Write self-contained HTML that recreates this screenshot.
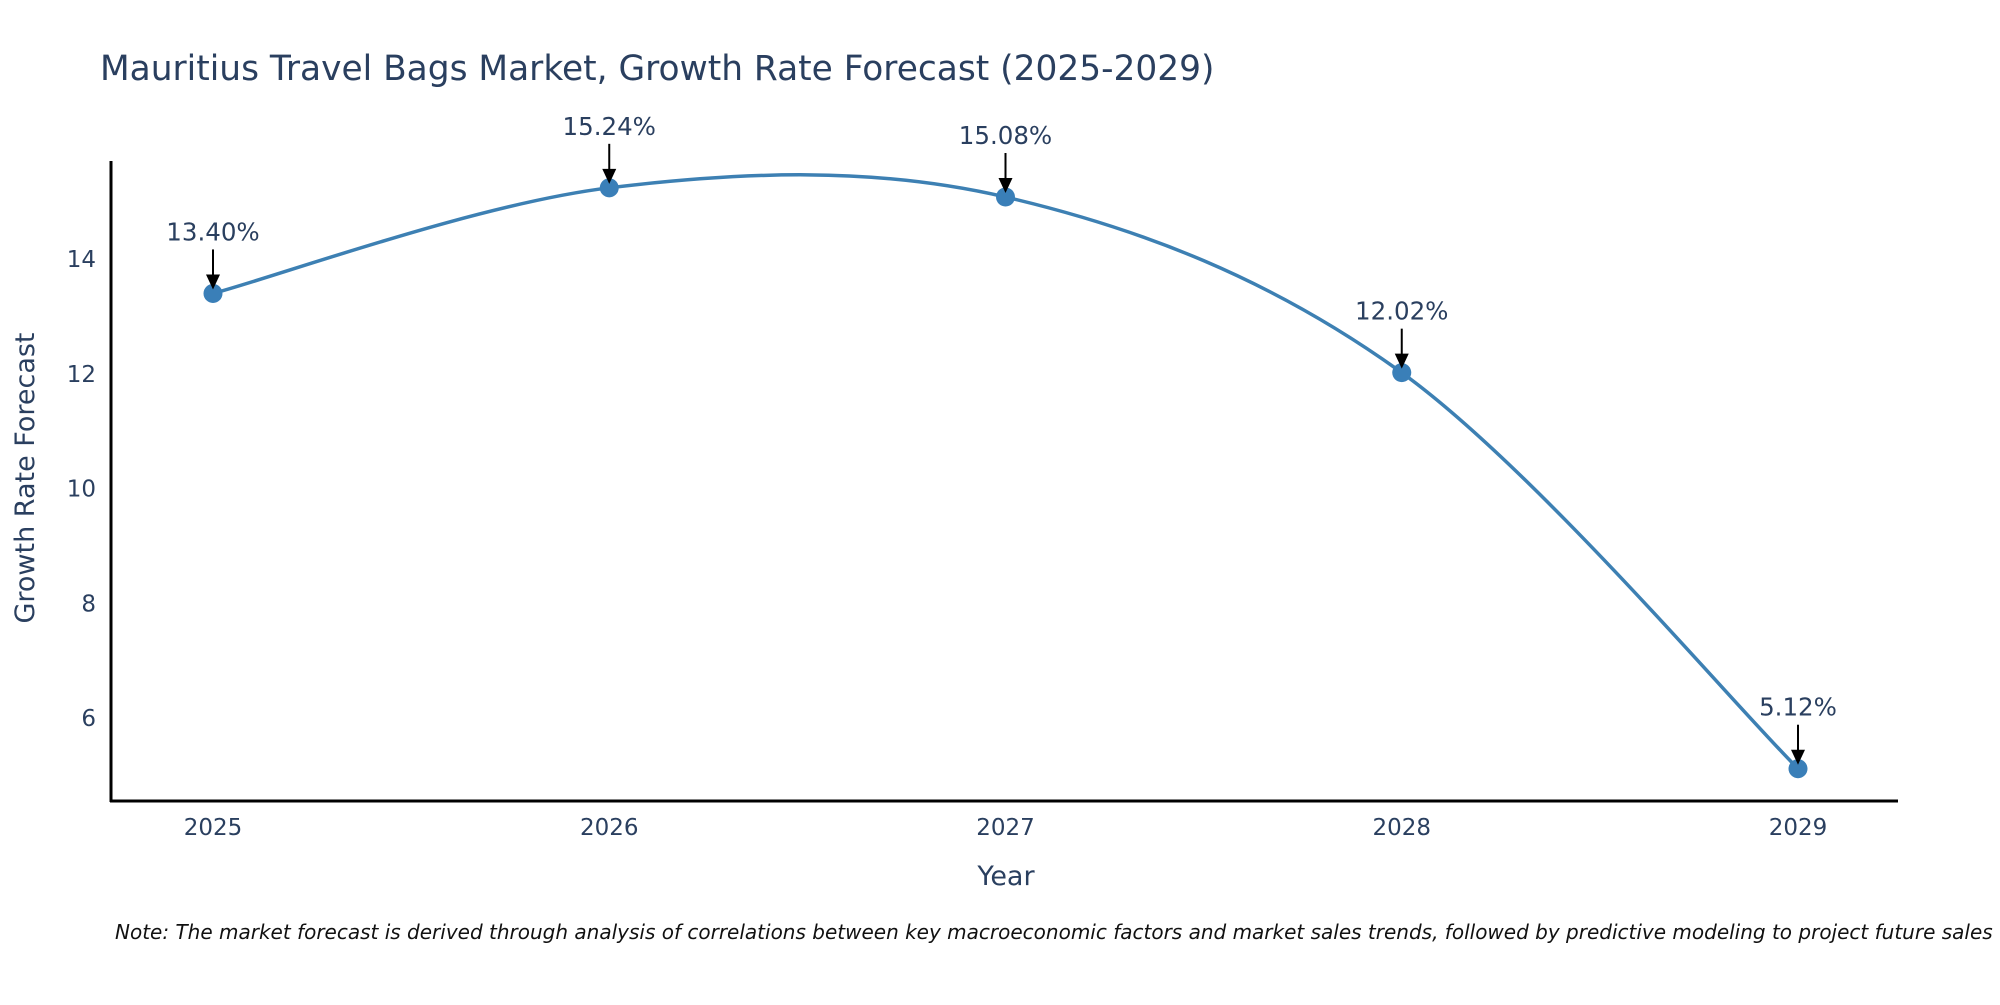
<!DOCTYPE html>
<html><head><meta charset="utf-8"><style>
body{margin:0;background:#fff;font-family:"Liberation Sans","DejaVu Sans",sans-serif;}
svg text{font-family:"DejaVu Sans","Liberation Sans",sans-serif;fill:#2a3f5f;}
</style></head><body>
<svg id="chart" width="2000" height="1000" viewBox="0 0 2000 1000" xmlns="http://www.w3.org/2000/svg">
<text x="100" y="80" font-size="34.4">Mauritius Travel Bags Market, Growth Rate Forecast (2025-2029)</text>
<g id="axes"></g>
<g id="series"></g>
<text x="1006" y="885" font-size="27" text-anchor="middle">Year</text>
<text transform="translate(34,478) rotate(-90)" font-size="27" text-anchor="middle">Growth Rate Forecast</text>
<text x="115" y="939" font-size="20" font-style="italic" style="fill:#111">Note: The market forecast is derived through analysis of correlations between key macroeconomic factors and market sales trends, followed by predictive modeling to project future sales</text>
</svg>
<script>
const years = ['2025','2026','2027','2028','2029'];
const growth = [13.40, 15.24, 15.08, 12.02, 5.12];
const labels = ['13.40%','15.24%','15.08%','12.02%','5.12%'];
const yTicks = [6, 8, 10, 12, 14];

const NS='http://www.w3.org/2000/svg';
const X0=213, XSTEP=396.25;
function xs(i){return X0+i*XSTEP;}
function ys(v){return 259-(v-14)*57.4;}
function mk(t,a){const e=document.createElementNS(NS,t);for(const k in a)e.setAttribute(k,a[k]);return e;}
const axes=document.getElementById('axes'), ser=document.getElementById('series');

let yl=mk('line',{x1:111,y1:161,x2:111,y2:802,stroke:'#000','stroke-width':3});


axes.appendChild(yl);
let xl=mk('line',{x1:110,y1:801,x2:1898,y2:801,stroke:'#000','stroke-width':3});


axes.appendChild(xl);

yTicks.forEach(v=>{
  const t=mk('text',{x:96,y:ys(v)+8,'font-size':23,'text-anchor':'end'});
  t.textContent=v;
  
  
  axes.appendChild(t);
});
years.forEach((y,i)=>{
  const t=mk('text',{x:xs(i),y:835,'font-size':23,'text-anchor':'middle'});
  t.textContent=y;
  
  
  axes.appendChild(t);
});

const pts=growth.map((v,i)=>[xs(i),ys(v)]);
let d='M'+pts[0][0]+','+pts[0][1];
for(let i=0;i<pts.length-1;i++){
  const p0=pts[Math.max(i-1,0)],p1=pts[i],p2=pts[i+1],p3=pts[Math.min(i+2,pts.length-1)];
  const k=1/6;
  d+=' C'+(p1[0]+(p2[0]-p0[0])*k)+','+(p1[1]+(p2[1]-p0[1])*k)+' '+(p2[0]-(p3[0]-p1[0])*k)+','+(p2[1]-(p3[1]-p1[1])*k)+' '+p2[0]+','+p2[1];
}
const line=mk('path',{d:d,fill:'none',stroke:'#3d80b3','stroke-width':3.5});


ser.appendChild(line);

pts.forEach((p,i)=>{
  const c=mk('circle',{cx:p[0],cy:p[1],r:9.5,fill:'#3a7fb8'});
  
  
  ser.appendChild(c);
  const a=mk('line',{x1:p[0],y1:p[1]-44,x2:p[0],y2:p[1]-16,stroke:'#000','stroke-width':2});
  
  
  ser.appendChild(a);
  const h=mk('polygon',{points:(p[0]-7)+','+(p[1]-19)+' '+(p[0]+7)+','+(p[1]-19)+' '+p[0]+','+(p[1]-4),fill:'#000'});
  
  
  ser.appendChild(h);
  const t=mk('text',{x:p[0],y:p[1]-53,'font-size':24.5,'text-anchor':'middle'});
  t.textContent=labels[i];
  
  
  ser.appendChild(t);
});
</script>
</body></html>
